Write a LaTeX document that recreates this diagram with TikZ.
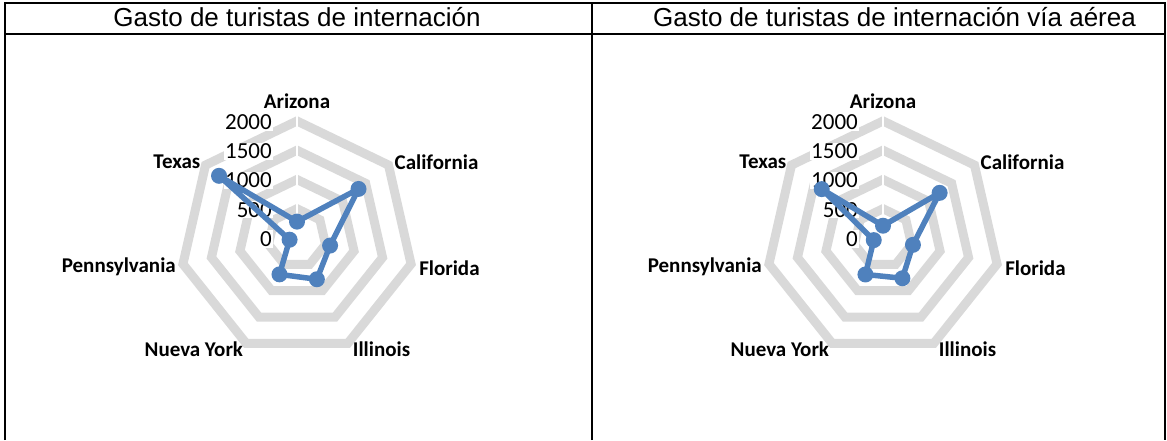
\documentclass[tikz,border=0pt]{standalone}
\usepackage{fontspec}
\setmainfont{Liberation Sans}
\newfontfamily\calibri{Carlito}
\usetikzlibrary{positioning}

\definecolor{ringgray}{HTML}{D9D9D9}
\definecolor{seriesblue}{HTML}{4F81BD}

\tikzset{
  ring/.style={draw=ringgray,line width=9pt,miter limit=10},
  series/.style={draw=seriesblue,line width=5.5pt,line join=round},
  dot/.style={circle,fill=seriesblue,inner sep=0pt,minimum size=16pt},
  ticklabel/.style={font=\calibri\fontsize{23}{23}\selectfont,anchor=east,inner sep=1pt,fill=white},
  statelabel/.style={font=\calibri\bfseries\fontsize{21}{21}\selectfont,inner sep=0pt},
  title/.style={font=\fontsize{26}{26}\selectfont,anchor=base},
  rule/.style={line width=2pt}
}

% radar chart: #1 = prefix, #2 = seven values (Arizona ... Texas)
\newcommand\drawradar[2]{
  % grid rings 500 .. 2000
  \foreach \r in {29.25,58.5,87.75,117}
    \draw[ring] (90:\r) \foreach \k in {1,...,6} { -- (90-\k*360/7:\r) } -- cycle;
  \draw[white,line width=1.5pt] (0,0) -- (90:123);
  % axis values
  \foreach \v/\r in {0/0,500/29.25,1000/58.5,1500/87.75,2000/117}
    \node[ticklabel] (#1-tick\v) at (-24,\r-1) {\v};
  % data
  \foreach \v [count=\i, evaluate=\i as \a using 90-(\i-1)*360/7,
               evaluate=\v as \rr using \v/2000*117] in {#2}
    \coordinate (#1-p\i) at (\a:\rr);
  \draw[series] (#1-p1) -- (#1-p2) -- (#1-p3) -- (#1-p4) -- (#1-p5) -- (#1-p6) -- (#1-p7) -- cycle;
  \foreach \i in {1,...,7}
    \node[dot] (#1-dot\i) at (#1-p\i) {};
  % category labels
  \foreach \name/\ang/\anc/\dx/\dy [count=\i] in {Arizona/90/center/0/20,
      California/38.57/west/6/3, Florida/-12.86/west/8/-4, Illinois/-64.29/west/5/-6,
      Nueva York/-115.71/east/-3/-6, Pennsylvania/-167.14/east/-7/-3, Texas/141.43/east/-5/3}
    \node[statelabel,anchor=\anc] (#1-lab\i) at ([shift={(\dx,\dy)}]\ang:117) {\name};
}

\begin{document}
\begin{tikzpicture}[x=1pt,y=1pt]
  \useasboundingbox (0,0) rectangle (1167,440);

  % table frame
  \draw[rule] (4.5,0) -- (4.5,437) -- (1165,437) -- (1165,0);
  \draw[rule] (4.5,406) -- (1165,406);
  \draw[rule] (592,0) -- (592,437);

  \node[title] (title-left)  at (297,413) {Gasto de turistas de internación};
  \node[title] (title-right) at (894.5,413) {Gasto de turistas de internación vía aérea};

  \begin{scope}[shift={(297,202)}]
    \drawradar{left}{280,1345,580,783,690,130,1705}
  \end{scope}

  \begin{scope}[shift={(883,202)}]
    \drawradar{right}{210,1238,525,764,692,162,1340}
  \end{scope}
\end{tikzpicture}
\end{document}
